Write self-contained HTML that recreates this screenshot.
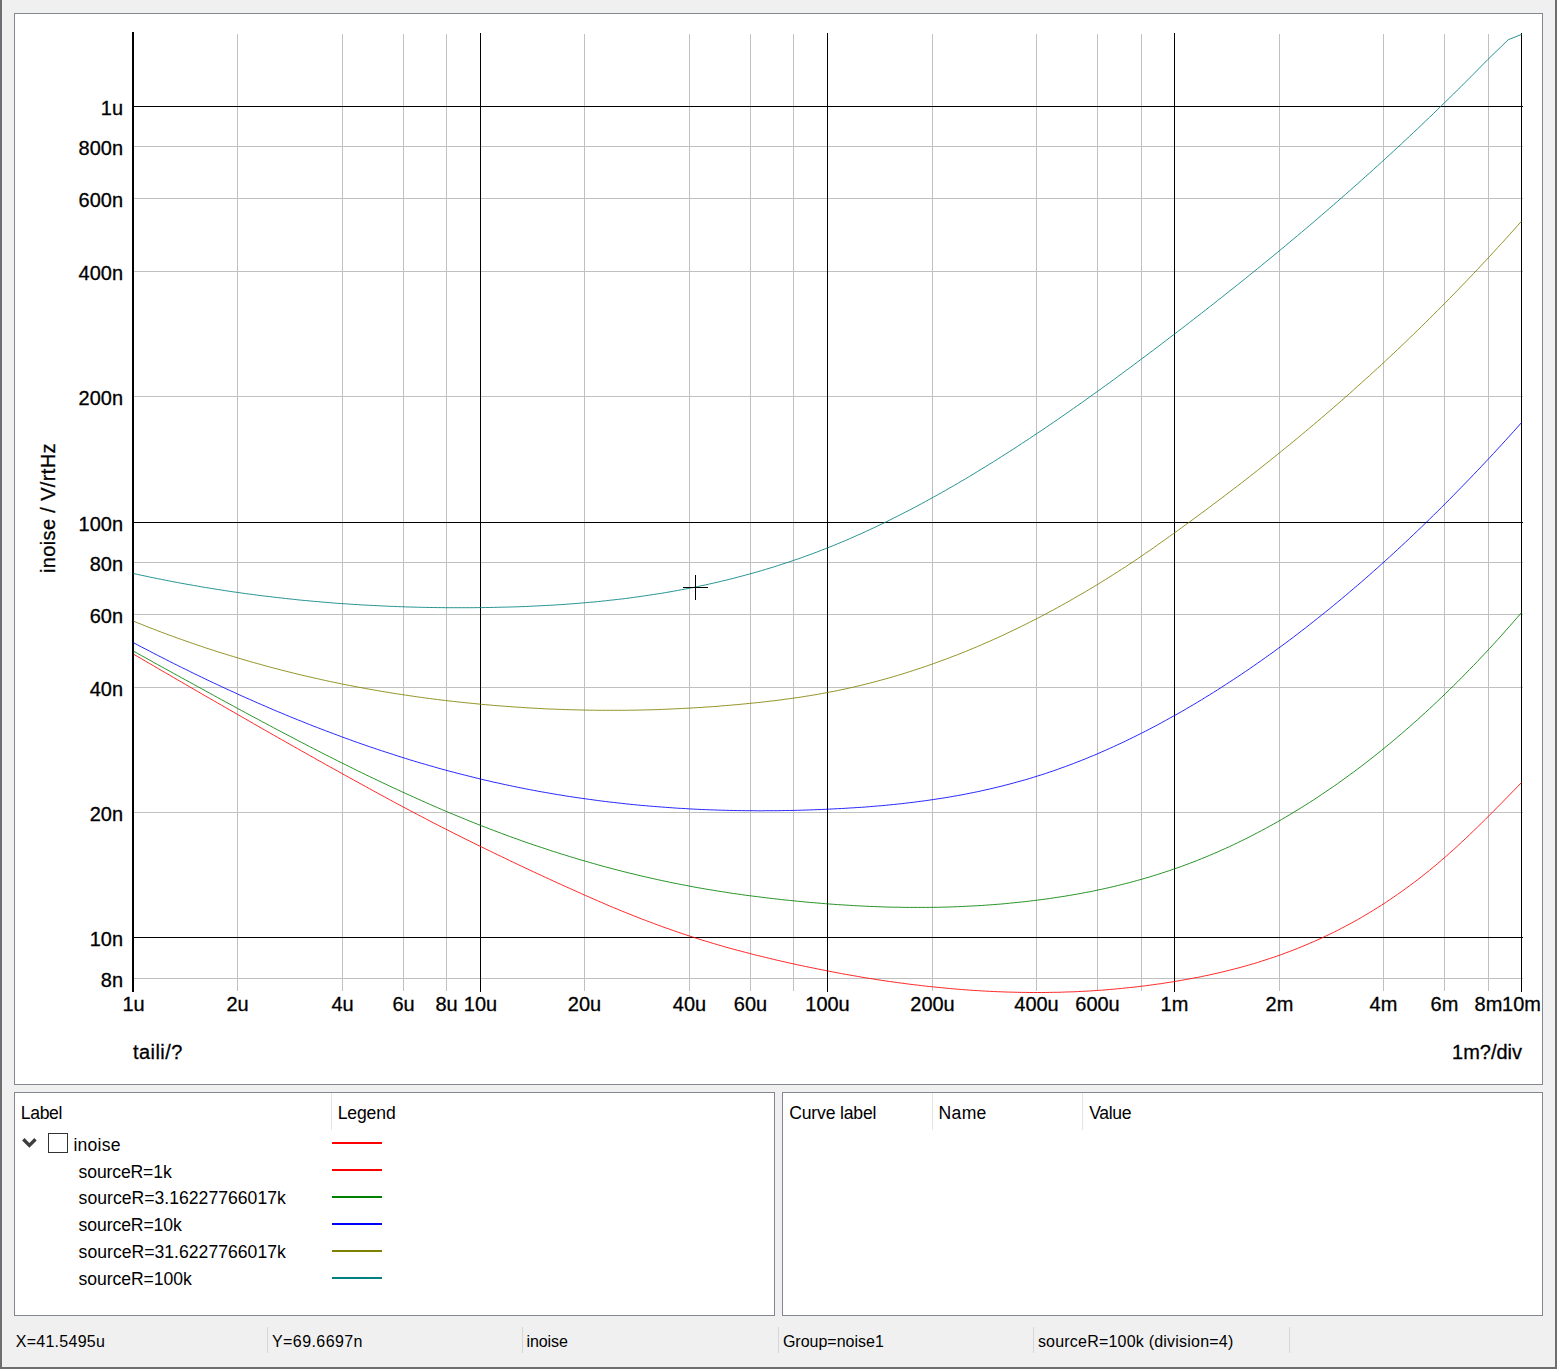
<!DOCTYPE html><html><head><meta charset="utf-8"><title>inoise</title><style>
html,body{margin:0;padding:0}
body{width:1557px;height:1369px;background:#f0f0f0;position:relative;overflow:hidden;font-family:"Liberation Sans", sans-serif;color:#000}
.abs{position:absolute}
.panel{position:absolute;box-sizing:border-box;border:1px solid #828790;background:#fff}
.t{position:absolute;white-space:nowrap;line-height:20px;height:20px}
.sep{position:absolute;width:1px;background:#e5e5e5}
.ssep{position:absolute;width:1px;background:#d7d7d7;top:1327px;height:26px}
.ln{position:absolute;left:332px;width:50px;height:2px}

</style></head><body>
<div class="abs" style="left:0;top:0;width:2px;height:1369px;background:#6d6e70"></div>
<div class="abs" style="left:1555px;top:0;width:2px;height:1369px;background:#6d6e70"></div>
<div class="abs" style="left:0;top:1367px;width:1557px;height:2px;background:#6d6e70"></div>
<div class="panel" style="left:14px;top:13px;width:1529px;height:1072px"></div>
<div class="panel" style="left:14px;top:1092px;width:761px;height:224px"></div>
<div class="panel" style="left:782px;top:1092px;width:761px;height:224px"></div>
<svg width="1557" height="1369" viewBox="0 0 1557 1369" style="position:absolute;left:0;top:0" font-family='"Liberation Sans", sans-serif'>
<g stroke="#c0c0c0" stroke-width="1" shape-rendering="crispEdges">
<line x1="134" y1="146.5" x2="1523" y2="146.5"/>
<line x1="134" y1="198.5" x2="1523" y2="198.5"/>
<line x1="134" y1="271.5" x2="1523" y2="271.5"/>
<line x1="134" y1="396.5" x2="1523" y2="396.5"/>
<line x1="134" y1="562.5" x2="1523" y2="562.5"/>
<line x1="134" y1="614.5" x2="1523" y2="614.5"/>
<line x1="134" y1="687.5" x2="1523" y2="687.5"/>
<line x1="134" y1="812.5" x2="1523" y2="812.5"/>
<line x1="134" y1="978.5" x2="1523" y2="978.5"/>
<line x1="237.5" y1="33.5" x2="237.5" y2="991"/>
<line x1="342.5" y1="33.5" x2="342.5" y2="991"/>
<line x1="403.5" y1="33.5" x2="403.5" y2="991"/>
<line x1="446.5" y1="33.5" x2="446.5" y2="991"/>
<line x1="584.5" y1="33.5" x2="584.5" y2="991"/>
<line x1="689.5" y1="33.5" x2="689.5" y2="991"/>
<line x1="750.5" y1="33.5" x2="750.5" y2="991"/>
<line x1="793.5" y1="33.5" x2="793.5" y2="991"/>
<line x1="932.5" y1="33.5" x2="932.5" y2="991"/>
<line x1="1036.5" y1="33.5" x2="1036.5" y2="991"/>
<line x1="1097.5" y1="33.5" x2="1097.5" y2="991"/>
<line x1="1141.5" y1="33.5" x2="1141.5" y2="991"/>
<line x1="1279.5" y1="33.5" x2="1279.5" y2="991"/>
<line x1="1383.5" y1="33.5" x2="1383.5" y2="991"/>
<line x1="1444.5" y1="33.5" x2="1444.5" y2="991"/>
<line x1="1488.5" y1="33.5" x2="1488.5" y2="991"/>
</g>
<g stroke="#000" stroke-width="1" shape-rendering="crispEdges">
<line x1="134" y1="106.5" x2="1523" y2="106.5"/>
<line x1="134" y1="522.5" x2="1523" y2="522.5"/>
<line x1="134" y1="937.5" x2="1523" y2="937.5"/>
<line x1="480.5" y1="33.0" x2="480.5" y2="992"/>
<line x1="827.5" y1="33.0" x2="827.5" y2="992"/>
<line x1="1174.5" y1="33.0" x2="1174.5" y2="992"/>
<line x1="1521.5" y1="33.0" x2="1521.5" y2="992"/>
</g>
<rect x="132" y="32" width="2" height="960" fill="#000"/>
<g fill="none" stroke-width="0.85" stroke-linejoin="round">
<path d="M133.5 654.2 L137.5 656.5 L141.5 658.8 L145.5 661.2 L149.5 663.5 L153.5 665.8 L157.5 668.2 L161.5 670.5 L165.5 672.8 L169.5 675.1 L173.5 677.5 L177.5 679.8 L181.5 682.1 L185.5 684.4 L189.5 686.8 L193.5 689.1 L197.5 691.4 L201.5 693.7 L205.5 696.0 L209.5 698.3 L213.5 700.6 L217.5 702.9 L221.5 705.2 L225.5 707.5 L229.5 709.8 L233.5 712.1 L237.5 714.4 L241.5 716.7 L245.5 719.0 L249.5 721.3 L253.5 723.6 L257.5 725.9 L261.5 728.2 L265.5 730.5 L269.5 732.7 L273.5 735.0 L277.5 737.3 L281.5 739.6 L285.5 741.8 L289.5 744.1 L293.5 746.4 L297.5 748.6 L301.5 750.9 L305.5 753.1 L309.5 755.4 L313.5 757.6 L317.5 759.9 L321.5 762.1 L325.5 764.4 L329.5 766.6 L333.5 768.8 L337.5 771.0 L341.5 773.3 L345.5 775.5 L349.5 777.7 L353.5 779.9 L357.5 782.1 L361.5 784.3 L365.5 786.5 L369.5 788.7 L373.5 790.9 L377.5 793.1 L381.5 795.3 L385.5 797.4 L389.5 799.6 L393.5 801.8 L397.5 803.9 L401.5 806.1 L405.5 808.2 L409.5 810.3 L413.5 812.4 L417.5 814.5 L421.5 816.6 L425.5 818.7 L429.5 820.8 L433.5 822.9 L437.5 824.9 L441.5 827.0 L445.5 829.0 L449.5 831.0 L453.5 833.1 L457.5 835.1 L461.5 837.1 L465.5 839.1 L469.5 841.0 L473.5 843.0 L477.5 845.0 L481.5 846.9 L485.5 848.9 L489.5 850.8 L493.5 852.8 L497.5 854.7 L501.5 856.6 L505.5 858.5 L509.5 860.5 L513.5 862.4 L517.5 864.3 L521.5 866.2 L525.5 868.1 L529.5 869.9 L533.5 871.8 L537.5 873.7 L541.5 875.5 L545.5 877.4 L549.5 879.2 L553.5 881.1 L557.5 882.9 L561.5 884.7 L565.5 886.5 L569.5 888.3 L573.5 890.1 L577.5 891.9 L581.5 893.7 L585.5 895.5 L589.5 897.2 L593.5 899.0 L597.5 900.7 L601.5 902.5 L605.5 904.2 L609.5 905.9 L613.5 907.6 L617.5 909.2 L621.5 910.9 L625.5 912.5 L629.5 914.1 L633.5 915.7 L637.5 917.3 L641.5 918.9 L645.5 920.4 L649.5 921.9 L653.5 923.4 L657.5 924.9 L661.5 926.4 L665.5 927.8 L669.5 929.2 L673.5 930.6 L677.5 932.0 L681.5 933.4 L685.5 934.7 L689.5 936.0 L693.5 937.3 L697.5 938.6 L701.5 939.9 L705.5 941.1 L709.5 942.3 L713.5 943.5 L717.5 944.7 L721.5 945.8 L725.5 947.0 L729.5 948.1 L733.5 949.2 L737.5 950.3 L741.5 951.3 L745.5 952.4 L749.5 953.4 L753.5 954.5 L757.5 955.5 L761.5 956.4 L765.5 957.4 L769.5 958.4 L773.5 959.3 L777.5 960.3 L781.5 961.2 L785.5 962.1 L789.5 963.0 L793.5 963.9 L797.5 964.8 L801.5 965.6 L805.5 966.5 L809.5 967.3 L813.5 968.1 L817.5 968.9 L821.5 969.7 L825.5 970.5 L829.5 971.3 L833.5 972.1 L837.5 972.8 L841.5 973.6 L845.5 974.3 L849.5 975.0 L853.5 975.7 L857.5 976.4 L861.5 977.1 L865.5 977.8 L869.5 978.4 L873.5 979.0 L877.5 979.7 L881.5 980.3 L885.5 980.9 L889.5 981.5 L893.5 982.0 L897.5 982.6 L901.5 983.1 L905.5 983.6 L909.5 984.2 L913.5 984.7 L917.5 985.1 L921.5 985.6 L925.5 986.1 L929.5 986.5 L933.5 986.9 L937.5 987.3 L941.5 987.7 L945.5 988.1 L949.5 988.5 L953.5 988.8 L957.5 989.2 L961.5 989.5 L965.5 989.8 L969.5 990.1 L973.5 990.4 L977.5 990.6 L981.5 990.9 L985.5 991.1 L989.5 991.3 L993.5 991.5 L997.5 991.7 L1001.5 991.8 L1005.5 992.0 L1009.5 992.1 L1013.5 992.2 L1017.5 992.3 L1021.5 992.4 L1025.5 992.4 L1029.5 992.5 L1033.5 992.5 L1037.5 992.5 L1041.5 992.5 L1045.5 992.5 L1049.5 992.4 L1053.5 992.3 L1057.5 992.3 L1061.5 992.2 L1065.5 992.0 L1069.5 991.9 L1073.5 991.8 L1077.5 991.6 L1081.5 991.4 L1085.5 991.2 L1089.5 991.0 L1093.5 990.7 L1097.5 990.4 L1101.5 990.2 L1105.5 989.9 L1109.5 989.5 L1113.5 989.2 L1117.5 988.8 L1121.5 988.4 L1125.5 988.0 L1129.5 987.6 L1133.5 987.2 L1137.5 986.7 L1141.5 986.2 L1145.5 985.8 L1149.5 985.2 L1153.5 984.7 L1157.5 984.1 L1161.5 983.6 L1165.5 982.9 L1169.5 982.3 L1173.5 981.7 L1177.5 981.0 L1181.5 980.3 L1185.5 979.6 L1189.5 978.9 L1193.5 978.1 L1197.5 977.4 L1201.5 976.6 L1205.5 975.7 L1209.5 974.9 L1213.5 974.0 L1217.5 973.1 L1221.5 972.2 L1225.5 971.2 L1229.5 970.2 L1233.5 969.2 L1237.5 968.2 L1241.5 967.1 L1245.5 966.0 L1249.5 964.8 L1253.5 963.7 L1257.5 962.5 L1261.5 961.2 L1265.5 959.9 L1269.5 958.6 L1273.5 957.3 L1277.5 955.9 L1281.5 954.5 L1285.5 953.0 L1289.5 951.5 L1293.5 950.0 L1297.5 948.4 L1301.5 946.8 L1305.5 945.1 L1309.5 943.4 L1313.5 941.7 L1317.5 939.9 L1321.5 938.1 L1325.5 936.2 L1329.5 934.3 L1333.5 932.4 L1337.5 930.4 L1341.5 928.3 L1345.5 926.2 L1349.5 924.1 L1353.5 921.9 L1357.5 919.7 L1361.5 917.4 L1365.5 915.0 L1369.5 912.6 L1373.5 910.2 L1377.5 907.7 L1381.5 905.2 L1385.5 902.6 L1389.5 899.9 L1393.5 897.2 L1397.5 894.4 L1401.5 891.6 L1405.5 888.7 L1409.5 885.8 L1413.5 882.8 L1417.5 879.8 L1421.5 876.7 L1425.5 873.5 L1429.5 870.3 L1433.5 867.0 L1437.5 863.7 L1441.5 860.2 L1445.5 856.8 L1449.5 853.2 L1453.5 849.7 L1457.5 846.0 L1461.5 842.3 L1465.5 838.6 L1469.5 834.8 L1473.5 830.9 L1477.5 827.0 L1481.5 823.1 L1485.5 819.2 L1489.5 815.2 L1493.5 811.2 L1497.5 807.1 L1501.5 803.1 L1505.5 799.0 L1509.5 794.9 L1513.5 790.8 L1517.5 786.7 L1521.5 782.6" stroke="#ff0000"/>
<path d="M133.5 651.2 L137.5 653.4 L141.5 655.6 L145.5 657.8 L149.5 660.0 L153.5 662.3 L157.5 664.5 L161.5 666.7 L165.5 668.9 L169.5 671.1 L173.5 673.3 L177.5 675.5 L181.5 677.7 L185.5 679.9 L189.5 682.1 L193.5 684.3 L197.5 686.5 L201.5 688.7 L205.5 690.9 L209.5 693.1 L213.5 695.3 L217.5 697.5 L221.5 699.7 L225.5 701.8 L229.5 704.0 L233.5 706.2 L237.5 708.4 L241.5 710.5 L245.5 712.7 L249.5 714.8 L253.5 717.0 L257.5 719.1 L261.5 721.3 L265.5 723.4 L269.5 725.5 L273.5 727.7 L277.5 729.8 L281.5 731.9 L285.5 734.0 L289.5 736.1 L293.5 738.2 L297.5 740.3 L301.5 742.4 L305.5 744.4 L309.5 746.5 L313.5 748.6 L317.5 750.6 L321.5 752.7 L325.5 754.7 L329.5 756.7 L333.5 758.7 L337.5 760.8 L341.5 762.8 L345.5 764.7 L349.5 766.7 L353.5 768.7 L357.5 770.7 L361.5 772.6 L365.5 774.6 L369.5 776.5 L373.5 778.4 L377.5 780.3 L381.5 782.2 L385.5 784.1 L389.5 786.0 L393.5 787.9 L397.5 789.7 L401.5 791.6 L405.5 793.4 L409.5 795.2 L413.5 797.0 L417.5 798.8 L421.5 800.6 L425.5 802.4 L429.5 804.2 L433.5 805.9 L437.5 807.6 L441.5 809.4 L445.5 811.1 L449.5 812.8 L453.5 814.4 L457.5 816.1 L461.5 817.7 L465.5 819.4 L469.5 821.0 L473.5 822.6 L477.5 824.2 L481.5 825.8 L485.5 827.3 L489.5 828.9 L493.5 830.4 L497.5 831.9 L501.5 833.4 L505.5 834.9 L509.5 836.4 L513.5 837.8 L517.5 839.2 L521.5 840.7 L525.5 842.1 L529.5 843.5 L533.5 844.8 L537.5 846.2 L541.5 847.5 L545.5 848.8 L549.5 850.2 L553.5 851.5 L557.5 852.7 L561.5 854.0 L565.5 855.2 L569.5 856.5 L573.5 857.7 L577.5 858.9 L581.5 860.1 L585.5 861.2 L589.5 862.4 L593.5 863.5 L597.5 864.7 L601.5 865.8 L605.5 866.9 L609.5 867.9 L613.5 869.0 L617.5 870.0 L621.5 871.1 L625.5 872.1 L629.5 873.1 L633.5 874.0 L637.5 875.0 L641.5 876.0 L645.5 876.9 L649.5 877.8 L653.5 878.7 L657.5 879.6 L661.5 880.5 L665.5 881.3 L669.5 882.2 L673.5 883.0 L677.5 883.8 L681.5 884.6 L685.5 885.3 L689.5 886.1 L693.5 886.9 L697.5 887.6 L701.5 888.3 L705.5 889.0 L709.5 889.7 L713.5 890.3 L717.5 891.0 L721.5 891.6 L725.5 892.2 L729.5 892.9 L733.5 893.5 L737.5 894.0 L741.5 894.6 L745.5 895.2 L749.5 895.7 L753.5 896.2 L757.5 896.7 L761.5 897.2 L765.5 897.7 L769.5 898.2 L773.5 898.7 L777.5 899.1 L781.5 899.6 L785.5 900.0 L789.5 900.4 L793.5 900.8 L797.5 901.2 L801.5 901.6 L805.5 902.0 L809.5 902.4 L813.5 902.7 L817.5 903.0 L821.5 903.4 L825.5 903.7 L829.5 904.0 L833.5 904.3 L837.5 904.6 L841.5 904.8 L845.5 905.1 L849.5 905.3 L853.5 905.6 L857.5 905.8 L861.5 906.0 L865.5 906.2 L869.5 906.4 L873.5 906.5 L877.5 906.7 L881.5 906.8 L885.5 907.0 L889.5 907.1 L893.5 907.2 L897.5 907.2 L901.5 907.3 L905.5 907.4 L909.5 907.4 L913.5 907.4 L917.5 907.4 L921.5 907.4 L925.5 907.4 L929.5 907.4 L933.5 907.3 L937.5 907.3 L941.5 907.2 L945.5 907.1 L949.5 907.0 L953.5 906.8 L957.5 906.7 L961.5 906.5 L965.5 906.3 L969.5 906.1 L973.5 905.9 L977.5 905.7 L981.5 905.5 L985.5 905.2 L989.5 904.9 L993.5 904.6 L997.5 904.3 L1001.5 904.0 L1005.5 903.6 L1009.5 903.2 L1013.5 902.8 L1017.5 902.4 L1021.5 902.0 L1025.5 901.6 L1029.5 901.1 L1033.5 900.6 L1037.5 900.1 L1041.5 899.6 L1045.5 899.1 L1049.5 898.5 L1053.5 897.9 L1057.5 897.3 L1061.5 896.7 L1065.5 896.1 L1069.5 895.4 L1073.5 894.7 L1077.5 894.0 L1081.5 893.3 L1085.5 892.5 L1089.5 891.8 L1093.5 891.0 L1097.5 890.1 L1101.5 889.3 L1105.5 888.4 L1109.5 887.5 L1113.5 886.6 L1117.5 885.6 L1121.5 884.6 L1125.5 883.6 L1129.5 882.6 L1133.5 881.5 L1137.5 880.4 L1141.5 879.3 L1145.5 878.1 L1149.5 877.0 L1153.5 875.7 L1157.5 874.5 L1161.5 873.2 L1165.5 871.9 L1169.5 870.6 L1173.5 869.2 L1177.5 867.8 L1181.5 866.4 L1185.5 864.9 L1189.5 863.4 L1193.5 861.9 L1197.5 860.3 L1201.5 858.7 L1205.5 857.1 L1209.5 855.4 L1213.5 853.7 L1217.5 852.0 L1221.5 850.2 L1225.5 848.4 L1229.5 846.6 L1233.5 844.7 L1237.5 842.8 L1241.5 840.8 L1245.5 838.9 L1249.5 836.9 L1253.5 834.8 L1257.5 832.7 L1261.5 830.6 L1265.5 828.5 L1269.5 826.3 L1273.5 824.1 L1277.5 821.8 L1281.5 819.5 L1285.5 817.2 L1289.5 814.8 L1293.5 812.4 L1297.5 810.0 L1301.5 807.5 L1305.5 805.0 L1309.5 802.5 L1313.5 799.9 L1317.5 797.3 L1321.5 794.6 L1325.5 791.9 L1329.5 789.2 L1333.5 786.5 L1337.5 783.7 L1341.5 780.8 L1345.5 777.9 L1349.5 775.0 L1353.5 772.1 L1357.5 769.1 L1361.5 766.1 L1365.5 763.0 L1369.5 759.9 L1373.5 756.8 L1377.5 753.6 L1381.5 750.4 L1385.5 747.1 L1389.5 743.8 L1393.5 740.5 L1397.5 737.1 L1401.5 733.7 L1405.5 730.2 L1409.5 726.8 L1413.5 723.2 L1417.5 719.7 L1421.5 716.0 L1425.5 712.4 L1429.5 708.7 L1433.5 705.0 L1437.5 701.2 L1441.5 697.4 L1445.5 693.6 L1449.5 689.7 L1453.5 685.7 L1457.5 681.8 L1461.5 677.8 L1465.5 673.7 L1469.5 669.6 L1473.5 665.5 L1477.5 661.3 L1481.5 657.1 L1485.5 652.8 L1489.5 648.5 L1493.5 644.2 L1497.5 639.8 L1501.5 635.4 L1505.5 630.9 L1509.5 626.4 L1513.5 621.8 L1517.5 617.2 L1521.5 612.6" stroke="#008000"/>
<path d="M133.5 642.7 L137.5 644.8 L141.5 647.0 L145.5 649.0 L149.5 651.1 L153.5 653.2 L157.5 655.3 L161.5 657.3 L165.5 659.3 L169.5 661.4 L173.5 663.4 L177.5 665.4 L181.5 667.4 L185.5 669.3 L189.5 671.3 L193.5 673.3 L197.5 675.2 L201.5 677.1 L205.5 679.1 L209.5 681.0 L213.5 682.9 L217.5 684.7 L221.5 686.6 L225.5 688.5 L229.5 690.3 L233.5 692.1 L237.5 694.0 L241.5 695.8 L245.5 697.6 L249.5 699.3 L253.5 701.1 L257.5 702.9 L261.5 704.6 L265.5 706.3 L269.5 708.1 L273.5 709.8 L277.5 711.5 L281.5 713.1 L285.5 714.8 L289.5 716.5 L293.5 718.1 L297.5 719.7 L301.5 721.3 L305.5 722.9 L309.5 724.5 L313.5 726.1 L317.5 727.6 L321.5 729.2 L325.5 730.7 L329.5 732.2 L333.5 733.7 L337.5 735.2 L341.5 736.7 L345.5 738.2 L349.5 739.6 L353.5 741.1 L357.5 742.5 L361.5 743.9 L365.5 745.3 L369.5 746.7 L373.5 748.0 L377.5 749.4 L381.5 750.7 L385.5 752.0 L389.5 753.3 L393.5 754.6 L397.5 755.9 L401.5 757.2 L405.5 758.4 L409.5 759.7 L413.5 760.9 L417.5 762.1 L421.5 763.3 L425.5 764.4 L429.5 765.6 L433.5 766.7 L437.5 767.9 L441.5 769.0 L445.5 770.1 L449.5 771.2 L453.5 772.2 L457.5 773.3 L461.5 774.3 L465.5 775.3 L469.5 776.3 L473.5 777.3 L477.5 778.3 L481.5 779.3 L485.5 780.2 L489.5 781.1 L493.5 782.1 L497.5 782.9 L501.5 783.8 L505.5 784.7 L509.5 785.5 L513.5 786.4 L517.5 787.2 L521.5 788.0 L525.5 788.8 L529.5 789.6 L533.5 790.3 L537.5 791.1 L541.5 791.8 L545.5 792.5 L549.5 793.2 L553.5 793.9 L557.5 794.6 L561.5 795.2 L565.5 795.9 L569.5 796.5 L573.5 797.1 L577.5 797.7 L581.5 798.3 L585.5 798.8 L589.5 799.4 L593.5 799.9 L597.5 800.5 L601.5 801.0 L605.5 801.5 L609.5 802.0 L613.5 802.4 L617.5 802.9 L621.5 803.3 L625.5 803.8 L629.5 804.2 L633.5 804.6 L637.5 805.0 L641.5 805.4 L645.5 805.7 L649.5 806.1 L653.5 806.4 L657.5 806.7 L661.5 807.0 L665.5 807.3 L669.5 807.6 L673.5 807.9 L677.5 808.2 L681.5 808.4 L685.5 808.6 L689.5 808.9 L693.5 809.1 L697.5 809.3 L701.5 809.5 L705.5 809.6 L709.5 809.8 L713.5 809.9 L717.5 810.1 L721.5 810.2 L725.5 810.3 L729.5 810.4 L733.5 810.5 L737.5 810.6 L741.5 810.6 L745.5 810.7 L749.5 810.7 L753.5 810.7 L757.5 810.8 L761.5 810.8 L765.5 810.7 L769.5 810.7 L773.5 810.7 L777.5 810.7 L781.5 810.6 L785.5 810.5 L789.5 810.5 L793.5 810.4 L797.5 810.3 L801.5 810.2 L805.5 810.1 L809.5 809.9 L813.5 809.8 L817.5 809.6 L821.5 809.5 L825.5 809.3 L829.5 809.1 L833.5 808.9 L837.5 808.7 L841.5 808.5 L845.5 808.3 L849.5 808.0 L853.5 807.8 L857.5 807.5 L861.5 807.3 L865.5 807.0 L869.5 806.7 L873.5 806.3 L877.5 806.0 L881.5 805.7 L885.5 805.3 L889.5 804.9 L893.5 804.5 L897.5 804.1 L901.5 803.7 L905.5 803.2 L909.5 802.7 L913.5 802.3 L917.5 801.7 L921.5 801.2 L925.5 800.7 L929.5 800.1 L933.5 799.5 L937.5 798.9 L941.5 798.3 L945.5 797.7 L949.5 797.0 L953.5 796.3 L957.5 795.6 L961.5 794.9 L965.5 794.1 L969.5 793.3 L973.5 792.5 L977.5 791.7 L981.5 790.8 L985.5 789.9 L989.5 789.0 L993.5 788.1 L997.5 787.1 L1001.5 786.2 L1005.5 785.1 L1009.5 784.1 L1013.5 783.0 L1017.5 781.9 L1021.5 780.8 L1025.5 779.7 L1029.5 778.5 L1033.5 777.3 L1037.5 776.0 L1041.5 774.8 L1045.5 773.5 L1049.5 772.1 L1053.5 770.8 L1057.5 769.4 L1061.5 767.9 L1065.5 766.5 L1069.5 765.0 L1073.5 763.5 L1077.5 761.9 L1081.5 760.4 L1085.5 758.8 L1089.5 757.1 L1093.5 755.5 L1097.5 753.8 L1101.5 752.0 L1105.5 750.3 L1109.5 748.5 L1113.5 746.7 L1117.5 744.8 L1121.5 743.0 L1125.5 741.1 L1129.5 739.1 L1133.5 737.2 L1137.5 735.2 L1141.5 733.2 L1145.5 731.2 L1149.5 729.1 L1153.5 727.0 L1157.5 724.9 L1161.5 722.7 L1165.5 720.5 L1169.5 718.3 L1173.5 716.1 L1177.5 713.9 L1181.5 711.6 L1185.5 709.3 L1189.5 706.9 L1193.5 704.6 L1197.5 702.2 L1201.5 699.8 L1205.5 697.3 L1209.5 694.9 L1213.5 692.4 L1217.5 689.9 L1221.5 687.3 L1225.5 684.7 L1229.5 682.1 L1233.5 679.5 L1237.5 676.9 L1241.5 674.2 L1245.5 671.5 L1249.5 668.8 L1253.5 666.0 L1257.5 663.2 L1261.5 660.4 L1265.5 657.6 L1269.5 654.7 L1273.5 651.9 L1277.5 648.9 L1281.5 646.0 L1285.5 643.1 L1289.5 640.1 L1293.5 637.1 L1297.5 634.0 L1301.5 630.9 L1305.5 627.9 L1309.5 624.7 L1313.5 621.6 L1317.5 618.4 L1321.5 615.2 L1325.5 612.0 L1329.5 608.8 L1333.5 605.5 L1337.5 602.2 L1341.5 598.9 L1345.5 595.5 L1349.5 592.1 L1353.5 588.7 L1357.5 585.3 L1361.5 581.9 L1365.5 578.4 L1369.5 574.9 L1373.5 571.3 L1377.5 567.8 L1381.5 564.2 L1385.5 560.6 L1389.5 557.0 L1393.5 553.3 L1397.5 549.6 L1401.5 545.9 L1405.5 542.2 L1409.5 538.4 L1413.5 534.6 L1417.5 530.8 L1421.5 527.0 L1425.5 523.1 L1429.5 519.2 L1433.5 515.3 L1437.5 511.3 L1441.5 507.4 L1445.5 503.4 L1449.5 499.4 L1453.5 495.3 L1457.5 491.2 L1461.5 487.1 L1465.5 483.0 L1469.5 478.9 L1473.5 474.7 L1477.5 470.5 L1481.5 466.3 L1485.5 462.0 L1489.5 457.8 L1493.5 453.5 L1497.5 449.1 L1501.5 444.8 L1505.5 440.4 L1509.5 436.0 L1513.5 431.6 L1517.5 427.1 L1521.5 422.6" stroke="#0000ff"/>
<path d="M133.5 621.2 L137.5 622.8 L141.5 624.4 L145.5 626.0 L149.5 627.6 L153.5 629.1 L157.5 630.7 L161.5 632.2 L165.5 633.7 L169.5 635.2 L173.5 636.6 L177.5 638.1 L181.5 639.5 L185.5 640.9 L189.5 642.3 L193.5 643.7 L197.5 645.1 L201.5 646.4 L205.5 647.8 L209.5 649.1 L213.5 650.4 L217.5 651.7 L221.5 652.9 L225.5 654.2 L229.5 655.4 L233.5 656.6 L237.5 657.8 L241.5 659.0 L245.5 660.2 L249.5 661.4 L253.5 662.5 L257.5 663.6 L261.5 664.7 L265.5 665.8 L269.5 666.9 L273.5 668.0 L277.5 669.0 L281.5 670.1 L285.5 671.1 L289.5 672.1 L293.5 673.1 L297.5 674.1 L301.5 675.0 L305.5 676.0 L309.5 676.9 L313.5 677.8 L317.5 678.7 L321.5 679.6 L325.5 680.5 L329.5 681.4 L333.5 682.2 L337.5 683.0 L341.5 683.9 L345.5 684.7 L349.5 685.4 L353.5 686.2 L357.5 687.0 L361.5 687.7 L365.5 688.5 L369.5 689.2 L373.5 689.9 L377.5 690.6 L381.5 691.3 L385.5 692.0 L389.5 692.6 L393.5 693.3 L397.5 693.9 L401.5 694.5 L405.5 695.1 L409.5 695.7 L413.5 696.3 L417.5 696.9 L421.5 697.4 L425.5 698.0 L429.5 698.5 L433.5 699.0 L437.5 699.5 L441.5 700.0 L445.5 700.5 L449.5 701.0 L453.5 701.4 L457.5 701.9 L461.5 702.3 L465.5 702.7 L469.5 703.1 L473.5 703.5 L477.5 703.9 L481.5 704.3 L485.5 704.7 L489.5 705.0 L493.5 705.4 L497.5 705.7 L501.5 706.0 L505.5 706.3 L509.5 706.6 L513.5 706.9 L517.5 707.2 L521.5 707.4 L525.5 707.7 L529.5 707.9 L533.5 708.2 L537.5 708.4 L541.5 708.6 L545.5 708.8 L549.5 709.0 L553.5 709.1 L557.5 709.3 L561.5 709.4 L565.5 709.6 L569.5 709.7 L573.5 709.8 L577.5 709.9 L581.5 710.0 L585.5 710.1 L589.5 710.2 L593.5 710.2 L597.5 710.3 L601.5 710.3 L605.5 710.3 L609.5 710.3 L613.5 710.3 L617.5 710.3 L621.5 710.3 L625.5 710.3 L629.5 710.2 L633.5 710.2 L637.5 710.1 L641.5 710.0 L645.5 709.9 L649.5 709.8 L653.5 709.7 L657.5 709.6 L661.5 709.4 L665.5 709.3 L669.5 709.1 L673.5 708.9 L677.5 708.7 L681.5 708.5 L685.5 708.3 L689.5 708.1 L693.5 707.9 L697.5 707.6 L701.5 707.4 L705.5 707.1 L709.5 706.8 L713.5 706.6 L717.5 706.3 L721.5 705.9 L725.5 705.6 L729.5 705.3 L733.5 704.9 L737.5 704.6 L741.5 704.2 L745.5 703.8 L749.5 703.4 L753.5 703.0 L757.5 702.6 L761.5 702.2 L765.5 701.7 L769.5 701.2 L773.5 700.8 L777.5 700.3 L781.5 699.8 L785.5 699.2 L789.5 698.7 L793.5 698.1 L797.5 697.6 L801.5 697.0 L805.5 696.3 L809.5 695.7 L813.5 695.0 L817.5 694.4 L821.5 693.6 L825.5 692.9 L829.5 692.1 L833.5 691.4 L837.5 690.6 L841.5 689.7 L845.5 688.9 L849.5 688.0 L853.5 687.1 L857.5 686.1 L861.5 685.2 L865.5 684.2 L869.5 683.2 L873.5 682.2 L877.5 681.1 L881.5 680.0 L885.5 678.9 L889.5 677.8 L893.5 676.6 L897.5 675.4 L901.5 674.2 L905.5 673.0 L909.5 671.7 L913.5 670.4 L917.5 669.1 L921.5 667.8 L925.5 666.4 L929.5 665.0 L933.5 663.6 L937.5 662.2 L941.5 660.7 L945.5 659.3 L949.5 657.7 L953.5 656.2 L957.5 654.7 L961.5 653.1 L965.5 651.5 L969.5 649.8 L973.5 648.2 L977.5 646.5 L981.5 644.8 L985.5 643.0 L989.5 641.3 L993.5 639.5 L997.5 637.7 L1001.5 635.9 L1005.5 634.0 L1009.5 632.1 L1013.5 630.2 L1017.5 628.3 L1021.5 626.3 L1025.5 624.4 L1029.5 622.3 L1033.5 620.3 L1037.5 618.3 L1041.5 616.2 L1045.5 614.1 L1049.5 611.9 L1053.5 609.8 L1057.5 607.6 L1061.5 605.4 L1065.5 603.2 L1069.5 600.9 L1073.5 598.6 L1077.5 596.3 L1081.5 594.0 L1085.5 591.7 L1089.5 589.3 L1093.5 586.9 L1097.5 584.5 L1101.5 582.0 L1105.5 579.5 L1109.5 577.0 L1113.5 574.5 L1117.5 571.9 L1121.5 569.4 L1125.5 566.8 L1129.5 564.1 L1133.5 561.5 L1137.5 558.8 L1141.5 556.1 L1145.5 553.3 L1149.5 550.6 L1153.5 547.8 L1157.5 545.0 L1161.5 542.1 L1165.5 539.3 L1169.5 536.4 L1173.5 533.6 L1177.5 530.7 L1181.5 527.8 L1185.5 524.9 L1189.5 522.0 L1193.5 519.0 L1197.5 516.1 L1201.5 513.1 L1205.5 510.2 L1209.5 507.2 L1213.5 504.2 L1217.5 501.2 L1221.5 498.2 L1225.5 495.1 L1229.5 492.1 L1233.5 489.0 L1237.5 486.0 L1241.5 482.9 L1245.5 479.8 L1249.5 476.7 L1253.5 473.5 L1257.5 470.4 L1261.5 467.2 L1265.5 464.0 L1269.5 460.9 L1273.5 457.6 L1277.5 454.4 L1281.5 451.2 L1285.5 447.9 L1289.5 444.7 L1293.5 441.4 L1297.5 438.1 L1301.5 434.8 L1305.5 431.4 L1309.5 428.1 L1313.5 424.7 L1317.5 421.3 L1321.5 417.9 L1325.5 414.5 L1329.5 411.0 L1333.5 407.6 L1337.5 404.1 L1341.5 400.6 L1345.5 397.1 L1349.5 393.6 L1353.5 390.0 L1357.5 386.4 L1361.5 382.8 L1365.5 379.2 L1369.5 375.6 L1373.5 371.9 L1377.5 368.3 L1381.5 364.6 L1385.5 360.9 L1389.5 357.1 L1393.5 353.4 L1397.5 349.6 L1401.5 345.8 L1405.5 342.0 L1409.5 338.1 L1413.5 334.3 L1417.5 330.4 L1421.5 326.5 L1425.5 322.5 L1429.5 318.6 L1433.5 314.6 L1437.5 310.6 L1441.5 306.6 L1445.5 302.6 L1449.5 298.5 L1453.5 294.4 L1457.5 290.3 L1461.5 286.1 L1465.5 282.0 L1469.5 277.8 L1473.5 273.6 L1477.5 269.4 L1481.5 265.1 L1485.5 260.8 L1489.5 256.5 L1493.5 252.2 L1497.5 247.8 L1501.5 243.5 L1505.5 239.1 L1509.5 234.6 L1513.5 230.2 L1517.5 225.7 L1521.5 221.2" stroke="#808000"/>
<path d="M133.5 573.5 L137.5 574.4 L141.5 575.3 L145.5 576.1 L149.5 577.0 L153.5 577.8 L157.5 578.6 L161.5 579.4 L165.5 580.2 L169.5 581.0 L173.5 581.8 L177.5 582.5 L181.5 583.3 L185.5 584.0 L189.5 584.7 L193.5 585.4 L197.5 586.1 L201.5 586.8 L205.5 587.5 L209.5 588.1 L213.5 588.8 L217.5 589.4 L221.5 590.0 L225.5 590.7 L229.5 591.3 L233.5 591.9 L237.5 592.4 L241.5 593.0 L245.5 593.6 L249.5 594.1 L253.5 594.6 L257.5 595.2 L261.5 595.7 L265.5 596.2 L269.5 596.6 L273.5 597.1 L277.5 597.6 L281.5 598.0 L285.5 598.5 L289.5 598.9 L293.5 599.3 L297.5 599.8 L301.5 600.2 L305.5 600.5 L309.5 600.9 L313.5 601.3 L317.5 601.6 L321.5 602.0 L325.5 602.3 L329.5 602.6 L333.5 603.0 L337.5 603.3 L341.5 603.6 L345.5 603.8 L349.5 604.1 L353.5 604.4 L357.5 604.6 L361.5 604.9 L365.5 605.1 L369.5 605.3 L373.5 605.5 L377.5 605.7 L381.5 605.9 L385.5 606.1 L389.5 606.3 L393.5 606.4 L397.5 606.6 L401.5 606.7 L405.5 606.9 L409.5 607.0 L413.5 607.1 L417.5 607.2 L421.5 607.3 L425.5 607.4 L429.5 607.5 L433.5 607.5 L437.5 607.6 L441.5 607.6 L445.5 607.7 L449.5 607.7 L453.5 607.7 L457.5 607.7 L461.5 607.7 L465.5 607.7 L469.5 607.7 L473.5 607.7 L477.5 607.6 L481.5 607.6 L485.5 607.5 L489.5 607.5 L493.5 607.4 L497.5 607.3 L501.5 607.2 L505.5 607.1 L509.5 607.0 L513.5 606.9 L517.5 606.8 L521.5 606.6 L525.5 606.5 L529.5 606.3 L533.5 606.1 L537.5 605.9 L541.5 605.7 L545.5 605.5 L549.5 605.3 L553.5 605.1 L557.5 604.8 L561.5 604.6 L565.5 604.3 L569.5 604.0 L573.5 603.7 L577.5 603.4 L581.5 603.0 L585.5 602.7 L589.5 602.3 L593.5 602.0 L597.5 601.6 L601.5 601.2 L605.5 600.8 L609.5 600.3 L613.5 599.9 L617.5 599.4 L621.5 599.0 L625.5 598.5 L629.5 598.0 L633.5 597.4 L637.5 596.9 L641.5 596.3 L645.5 595.7 L649.5 595.1 L653.5 594.5 L657.5 593.9 L661.5 593.3 L665.5 592.6 L669.5 591.9 L673.5 591.2 L677.5 590.5 L681.5 589.7 L685.5 589.0 L689.5 588.2 L693.5 587.4 L697.5 586.6 L701.5 585.7 L705.5 584.9 L709.5 584.0 L713.5 583.1 L717.5 582.2 L721.5 581.2 L725.5 580.3 L729.5 579.3 L733.5 578.3 L737.5 577.2 L741.5 576.2 L745.5 575.1 L749.5 574.0 L753.5 572.9 L757.5 571.8 L761.5 570.6 L765.5 569.4 L769.5 568.2 L773.5 567.0 L777.5 565.7 L781.5 564.4 L785.5 563.1 L789.5 561.8 L793.5 560.4 L797.5 559.1 L801.5 557.7 L805.5 556.2 L809.5 554.8 L813.5 553.3 L817.5 551.8 L821.5 550.2 L825.5 548.7 L829.5 547.1 L833.5 545.5 L837.5 543.8 L841.5 542.2 L845.5 540.5 L849.5 538.8 L853.5 537.0 L857.5 535.2 L861.5 533.5 L865.5 531.6 L869.5 529.8 L873.5 527.9 L877.5 526.0 L881.5 524.1 L885.5 522.2 L889.5 520.2 L893.5 518.2 L897.5 516.2 L901.5 514.2 L905.5 512.1 L909.5 510.1 L913.5 508.0 L917.5 505.8 L921.5 503.7 L925.5 501.5 L929.5 499.3 L933.5 497.1 L937.5 494.9 L941.5 492.7 L945.5 490.4 L949.5 488.1 L953.5 485.8 L957.5 483.5 L961.5 481.1 L965.5 478.8 L969.5 476.4 L973.5 474.0 L977.5 471.5 L981.5 469.1 L985.5 466.7 L989.5 464.2 L993.5 461.7 L997.5 459.2 L1001.5 456.6 L1005.5 454.1 L1009.5 451.5 L1013.5 449.0 L1017.5 446.4 L1021.5 443.7 L1025.5 441.1 L1029.5 438.5 L1033.5 435.8 L1037.5 433.1 L1041.5 430.5 L1045.5 427.8 L1049.5 425.0 L1053.5 422.3 L1057.5 419.6 L1061.5 416.8 L1065.5 414.0 L1069.5 411.2 L1073.5 408.4 L1077.5 405.6 L1081.5 402.8 L1085.5 400.0 L1089.5 397.1 L1093.5 394.2 L1097.5 391.4 L1101.5 388.5 L1105.5 385.6 L1109.5 382.7 L1113.5 379.8 L1117.5 376.8 L1121.5 373.9 L1125.5 370.9 L1129.5 368.0 L1133.5 365.0 L1137.5 362.0 L1141.5 359.0 L1145.5 356.0 L1149.5 353.0 L1153.5 350.0 L1157.5 347.0 L1161.5 343.9 L1165.5 340.9 L1169.5 337.8 L1173.5 334.8 L1177.5 331.7 L1181.5 328.7 L1185.5 325.6 L1189.5 322.5 L1193.5 319.4 L1197.5 316.3 L1201.5 313.2 L1205.5 310.1 L1209.5 306.9 L1213.5 303.8 L1217.5 300.6 L1221.5 297.5 L1225.5 294.3 L1229.5 291.1 L1233.5 288.0 L1237.5 284.8 L1241.5 281.6 L1245.5 278.4 L1249.5 275.1 L1253.5 271.9 L1257.5 268.7 L1261.5 265.4 L1265.5 262.1 L1269.5 258.9 L1273.5 255.6 L1277.5 252.3 L1281.5 249.0 L1285.5 245.7 L1289.5 242.3 L1293.5 239.0 L1297.5 235.6 L1301.5 232.3 L1305.5 228.9 L1309.5 225.5 L1313.5 222.1 L1317.5 218.7 L1321.5 215.2 L1325.5 211.8 L1329.5 208.3 L1333.5 204.9 L1337.5 201.4 L1341.5 197.9 L1345.5 194.4 L1349.5 190.9 L1353.5 187.3 L1357.5 183.8 L1361.5 180.2 L1365.5 176.6 L1369.5 173.1 L1373.5 169.4 L1377.5 165.8 L1381.5 162.2 L1385.5 158.5 L1389.5 154.9 L1393.5 151.2 L1397.5 147.5 L1401.5 143.8 L1405.5 140.0 L1409.5 136.3 L1413.5 132.5 L1417.5 128.8 L1421.5 125.0 L1425.5 121.1 L1429.5 117.3 L1433.5 113.5 L1437.5 109.6 L1441.5 105.7 L1445.5 101.8 L1449.5 97.9 L1453.5 94.0 L1457.5 90.0 L1461.5 86.1 L1465.5 82.1 L1469.5 78.1 L1473.5 74.1 L1477.5 70.0 L1481.5 65.9 L1485.5 61.9 L1487.9 59.4 L1508.3 39.7 L1521.8 34.3" stroke="#008080"/>
</g>
<g stroke="#000" stroke-width="1" shape-rendering="crispEdges"><line x1="683" y1="587.5" x2="708" y2="587.5"/><line x1="695.5" y1="575" x2="695.5" y2="600"/></g>
<g font-size="20.6" fill="#000" stroke="#000" stroke-width="0.3">
<text transform="translate(123 115.1) scale(0.97 1)" text-anchor="end">1u</text>
<text transform="translate(123 531.1) scale(0.97 1)" text-anchor="end">100n</text>
<text transform="translate(123 946.1) scale(0.97 1)" text-anchor="end">10n</text>
<text transform="translate(123 155.1) scale(0.97 1)" text-anchor="end">800n</text>
<text transform="translate(123 207.1) scale(0.97 1)" text-anchor="end">600n</text>
<text transform="translate(123 280.1) scale(0.97 1)" text-anchor="end">400n</text>
<text transform="translate(123 405.1) scale(0.97 1)" text-anchor="end">200n</text>
<text transform="translate(123 571.1) scale(0.97 1)" text-anchor="end">80n</text>
<text transform="translate(123 623.1) scale(0.97 1)" text-anchor="end">60n</text>
<text transform="translate(123 696.1) scale(0.97 1)" text-anchor="end">40n</text>
<text transform="translate(123 821.1) scale(0.97 1)" text-anchor="end">20n</text>
<text transform="translate(123 987.1) scale(0.97 1)" text-anchor="end">8n</text>
<text transform="translate(133.5 1010.7) scale(0.97 1)" text-anchor="middle">1u</text>
<text transform="translate(480.5 1010.7) scale(0.97 1)" text-anchor="middle">10u</text>
<text transform="translate(827.5 1010.7) scale(0.97 1)" text-anchor="middle">100u</text>
<text transform="translate(1174.5 1010.7) scale(0.97 1)" text-anchor="middle">1m</text>
<text transform="translate(1521.5 1010.7) scale(0.97 1)" text-anchor="middle">10m</text>
<text transform="translate(237.5 1010.7) scale(0.97 1)" text-anchor="middle">2u</text>
<text transform="translate(342.5 1010.7) scale(0.97 1)" text-anchor="middle">4u</text>
<text transform="translate(403.5 1010.7) scale(0.97 1)" text-anchor="middle">6u</text>
<text transform="translate(446.5 1010.7) scale(0.97 1)" text-anchor="middle">8u</text>
<text transform="translate(584.5 1010.7) scale(0.97 1)" text-anchor="middle">20u</text>
<text transform="translate(689.5 1010.7) scale(0.97 1)" text-anchor="middle">40u</text>
<text transform="translate(750.5 1010.7) scale(0.97 1)" text-anchor="middle">60u</text>
<text transform="translate(932.5 1010.7) scale(0.97 1)" text-anchor="middle">200u</text>
<text transform="translate(1036.5 1010.7) scale(0.97 1)" text-anchor="middle">400u</text>
<text transform="translate(1097.5 1010.7) scale(0.97 1)" text-anchor="middle">600u</text>
<text transform="translate(1279.5 1010.7) scale(0.97 1)" text-anchor="middle">2m</text>
<text transform="translate(1383.5 1010.7) scale(0.97 1)" text-anchor="middle">4m</text>
<text transform="translate(1444.5 1010.7) scale(0.97 1)" text-anchor="middle">6m</text>
<text transform="translate(1488.5 1010.7) scale(0.97 1)" text-anchor="middle">8m</text>
<text transform="translate(133 1058.6) scale(0.97 1)" text-anchor="start" letter-spacing="0.45">taili/?</text>
<text transform="translate(1522 1058.6) scale(0.97 1)" text-anchor="end">1m?/div</text>
<text transform="translate(54.7 508.1) rotate(-90) scale(0.97 1)" text-anchor="middle" letter-spacing="0.38">inoise / V/rtHz</text>
</g>
</svg>
<div class="t" style="left:20.70px;top:1103.00px;font-size:17.6px;letter-spacing:-0.310px">Label</div>
<div class="t" style="left:337.70px;top:1103.00px;font-size:17.6px;letter-spacing:-0.145px">Legend</div>
<div class="t" style="left:789.20px;top:1102.90px;font-size:17.6px;letter-spacing:-0.168px">Curve label</div>
<div class="t" style="left:938.50px;top:1102.90px;font-size:17.6px;letter-spacing:0.318px">Name</div>
<div class="t" style="left:1089.30px;top:1102.90px;font-size:17.6px;letter-spacing:-0.352px">Value</div>
<div class="t" style="left:73.40px;top:1134.90px;font-size:17.6px;letter-spacing:0.243px">inoise</div>
<div class="t" style="left:78.60px;top:1161.50px;font-size:17.6px;letter-spacing:-0.141px">sourceR=1k</div>
<div class="t" style="left:78.60px;top:1188.20px;font-size:17.6px;letter-spacing:0.015px">sourceR=3.16227766017k</div>
<div class="t" style="left:78.60px;top:1215.20px;font-size:17.6px;letter-spacing:-0.096px">sourceR=10k</div>
<div class="t" style="left:78.60px;top:1242.10px;font-size:17.6px;letter-spacing:0.015px">sourceR=31.6227766017k</div>
<div class="t" style="left:78.60px;top:1269.00px;font-size:17.6px;letter-spacing:-0.077px">sourceR=100k</div>
<div class="t" style="left:15.70px;top:1331.66px;font-size:16.0px;letter-spacing:0.272px">X=41.5495u</div>
<div class="t" style="left:272.00px;top:1331.66px;font-size:16.0px;letter-spacing:0.416px">Y=69.6697n</div>
<div class="t" style="left:526.50px;top:1331.66px;font-size:16.0px;letter-spacing:-0.101px">inoise</div>
<div class="t" style="left:782.90px;top:1331.66px;font-size:16.0px;letter-spacing:0.003px">Group=noise1</div>
<div class="t" style="left:1037.90px;top:1331.66px;font-size:16.0px;letter-spacing:0.209px">sourceR=100k (division=4)</div>
<div class="sep" style="left:331px;top:1093px;height:37px"></div>
<div class="sep" style="left:932px;top:1093px;height:37px"></div>
<div class="sep" style="left:1082px;top:1093px;height:37px"></div>
<svg class="abs" style="left:20px;top:1136px" width="20" height="14" viewBox="0 0 20 14"><path d="M3.3 3.25 L9.4 9.35 L15.5 3.25" fill="none" stroke="#3e3e3e" stroke-width="3.4" stroke-linecap="butt" stroke-linejoin="miter"/></svg>
<div class="abs" style="left:48px;top:1133px;width:20px;height:20px;box-sizing:border-box;border:1px solid #333;background:#fff"></div>
<div class="ln" style="top:1142px;background:#ff0000"></div>
<div class="ln" style="top:1169px;background:#ff0000"></div>
<div class="ln" style="top:1196px;background:#008000"></div>
<div class="ln" style="top:1223px;background:#0000ff"></div>
<div class="ln" style="top:1250px;background:#808000"></div>
<div class="ln" style="top:1277px;background:#008080"></div>
<div class="ssep" style="left:267px"></div>
<div class="ssep" style="left:522px"></div>
<div class="ssep" style="left:778px"></div>
<div class="ssep" style="left:1033px"></div>
<div class="ssep" style="left:1289px"></div>
</body></html>
